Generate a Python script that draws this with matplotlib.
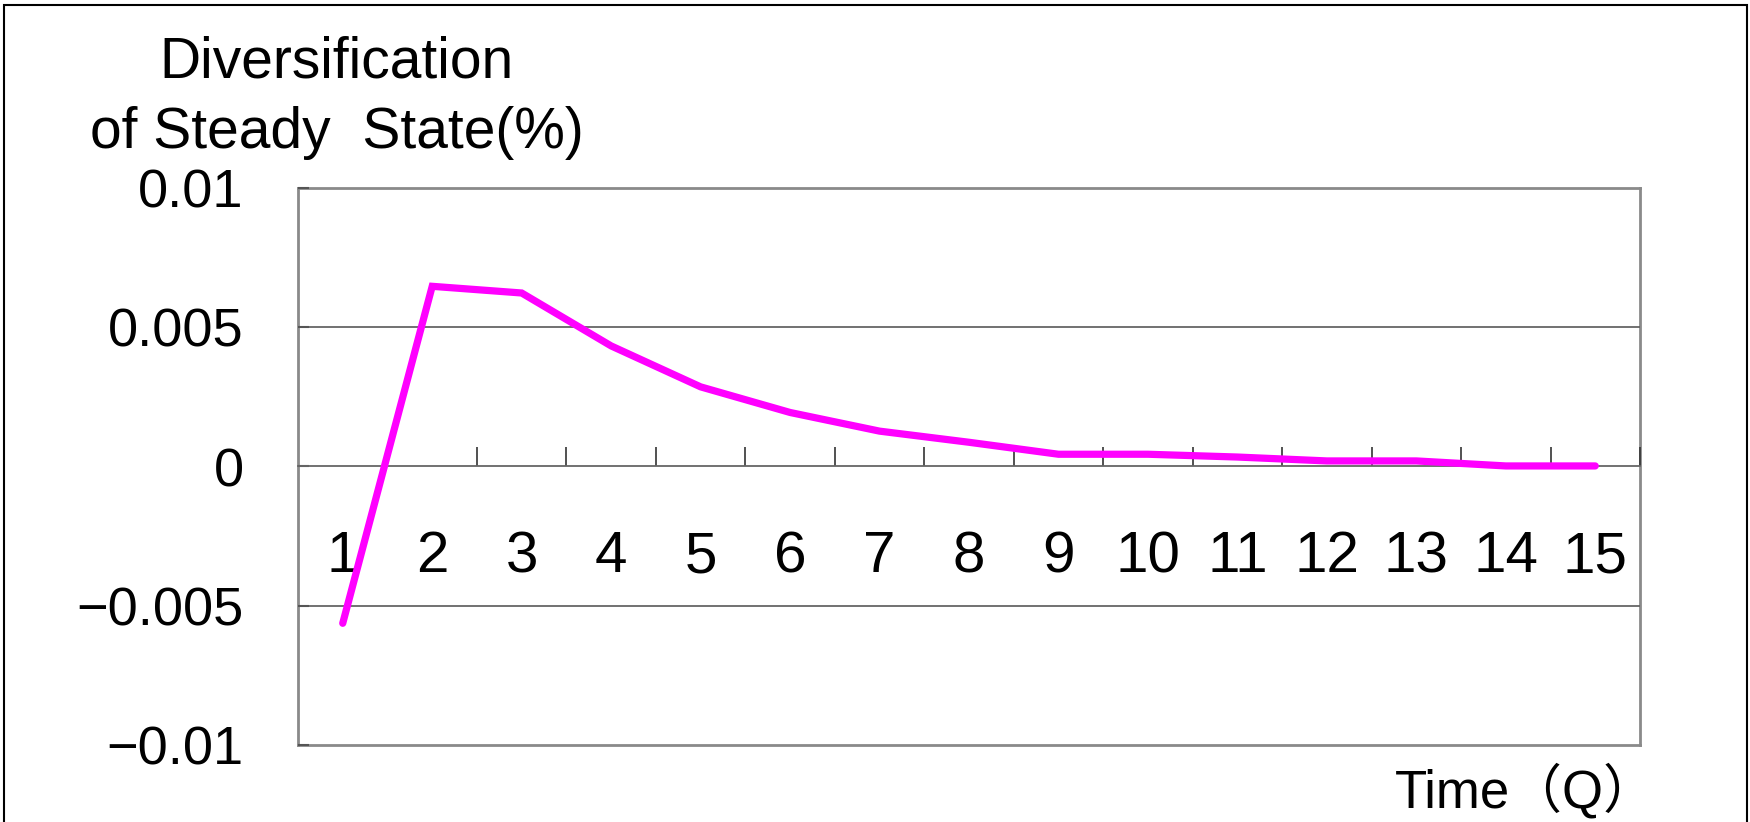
import numpy as np
import matplotlib
matplotlib.use("Agg")
import matplotlib.pyplot as plt
from matplotlib.patches import Rectangle
from matplotlib.ticker import FixedLocator

# data
quarters = list(range(1, 16))
deviation = [-0.00563, 0.00647, 0.00623, 0.00433, 0.00286, 0.00194, 0.00127,
             0.00087, 0.00044, 0.00044, 0.00034, 0.0002, 0.0002, 0.00002, 0.00002]
y_ticks = [-0.01, -0.005, 0, 0.005, 0.01]
y_labels = ["\u22120.01", "\u22120.005", "0", "0.005", "0.01"]

plain = ["Liberation Sans", "Noto Sans CJK JP", "DejaVu Sans"]

fig = plt.figure(figsize=(17.5, 8.22), dpi=100)
rect = [298 / 1750, 1 - 745 / 822, (1640 - 298) / 1750, (745 - 188) / 822]

# plain grey box behind the plot
frame = fig.add_axes(rect, zorder=0)
frame.set_xticks([])
frame.set_yticks([])
for s in frame.spines.values():
    s.set_color("#8a8a8a")
    s.set_linewidth(2)

ax = fig.add_axes(rect, zorder=1)
ax.patch.set_visible(False)

x = np.array(quarters)
ax.plot(x, deviation, color="#FF00FF", lw=5.2, solid_capstyle="round",
        solid_joinstyle="miter", zorder=3)

ax.set_xlim(x[0] - 0.5, x[-1] + 0.5)
ax.set_ylim(y_ticks[0], y_ticks[-1])
ax.set_yticks(y_ticks)
ax.set_yticklabels(y_labels, family=plain, fontsize=39)
ax.tick_params(axis="y", direction="in", length=8, width=1.5, color="#555555", pad=39)

for yv in [-0.005, 0.005]:
    ax.axhline(yv, color="#666666", lw=1.3, zorder=1)

for side in ["top", "right", "left"]:
    ax.spines[side].set_visible(False)

# category axis sitting on zero
ax.spines["bottom"].set_position(("data", 0))
ax.spines["bottom"].set_color("#666666")
ax.spines["bottom"].set_linewidth(1.3)
ax.set_xticks(x)
ax.set_xticklabels([str(q) for q in quarters], family=plain, fontsize=42)
ax.xaxis.set_minor_locator(FixedLocator(list(x + 0.5)))
ax.tick_params(axis="x", which="major", length=0, pad=46)
ax.tick_params(axis="x", which="minor", direction="in", length=14, width=1.2, color="#333333")

fig.text(337 / 1750, 1 - 98 / 822, "Diversification\nof Steady  State(%)",
         ha="center", va="center", multialignment="center", family=plain,
         fontsize=41, linespacing=1.4)
fig.text(1657 / 1750, 1 - 791 / 822, "Time\uff08Q\uff09", ha="right", va="center",
         family=plain, fontsize=38)

fig.patches.append(Rectangle((4 / 1750, -0.1), 1743 / 1750, 1.1 - 5 / 822,
                             transform=fig.transFigure, fill=False,
                             edgecolor="black", lw=1.5))

fig.savefig("out.png", dpi=100)
